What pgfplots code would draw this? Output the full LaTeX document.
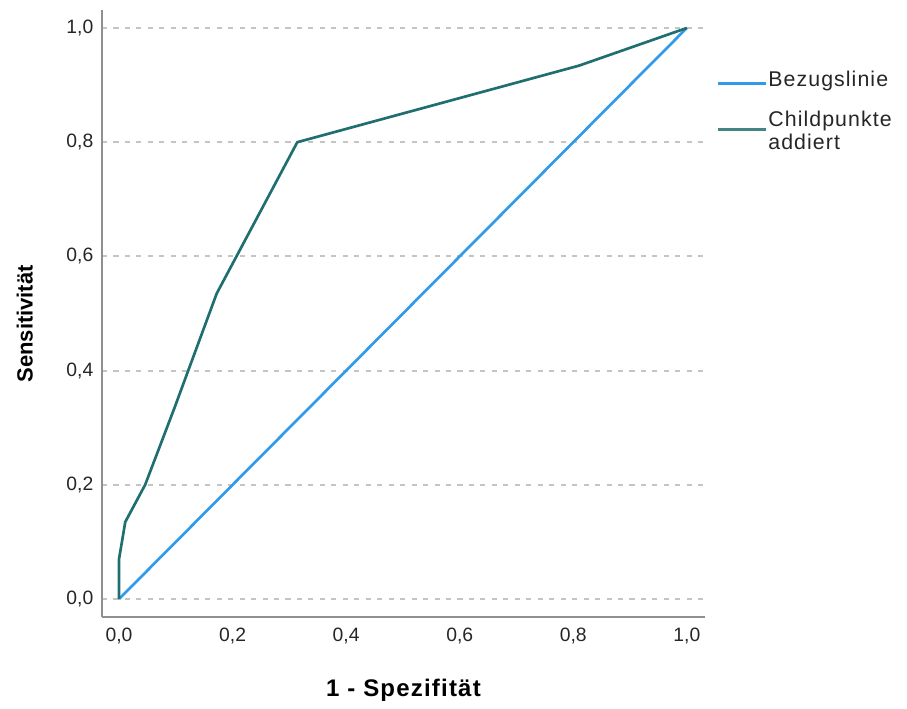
\documentclass[border=0pt]{standalone}
\usepackage{pgfplots}
\pgfplotsset{compat=1.18}
\usepackage{fontspec}
\setmainfont{Liberation Sans}
\newfontfamily\widefont[LetterSpace=5]{Liberation Sans}
\definecolor{refblue}{HTML}{2F9BEA}
\definecolor{rocteal}{HTML}{1F6F70}
\definecolor{gridgray}{HTML}{C4C4C4}
\definecolor{axgray}{HTML}{8F8F8F}
\begin{document}
\begin{tikzpicture}
\useasboundingbox (0,0) rectangle (680.25pt,531.75pt);
\begin{axis}[
  at={(76.5pt,69pt)}, anchor=south west,
  scale only axis, width=452.25pt, height=455.25pt,
  xmin=-0.030, xmax=1.032, ymin=-0.0315, ymax=1.0315,
  axis x line*=bottom, axis y line*=left,
  axis line style={draw=axgray, line width=1.5pt, -},
  xtick={0,0.2,0.4,0.6,0.8,1}, ytick={0,0.2,0.4,0.6,0.8,1},
  major tick length=0pt,
  ymajorgrids,
  grid style={draw=gridgray, line width=1.6pt, dash pattern=on 3.8pt off 4.8pt},
  /pgf/number format/assume math mode=true,
  /pgf/number format/.cd, use comma, fixed, fixed zerofill, precision=1, /pgfplots/.cd,
  tick label style={font=\fontsize{14.5}{17}\selectfont, text=black!85},
  xticklabel style={yshift=-5pt},
  yticklabel style={xshift=-3pt},
  xlabel={\widefont\bfseries 1 - Spezifität}, ylabel={Sensitivität},
  xlabel style={at={(axis description cs:0.5,-0.12)}, anchor=center, font=\bfseries\fontsize{18}{21}\selectfont},
  ylabel style={at={(axis description cs:-0.128,0.483)}, anchor=center, font=\bfseries\fontsize{16.5}{19}\selectfont},
  legend style={at={(axis description cs:1.018,0.902)}, anchor=north west, draw=none, fill=none,
    font=\widefont\fontsize{16}{19}\selectfont, inner sep=0pt, row sep=13pt,
    nodes={inner sep=1pt}, text=black!85},
  legend cell align=left,
]
\addplot[refblue, line width=2pt,
  legend image code/.code={\draw[refblue, line width=2pt] (0pt,-3pt) -- (36pt,-3pt);}] coordinates {(0,0) (1,1)};
\addlegendentry{Bezugslinie}
\addplot[rocteal, line width=2pt,
  legend image code/.code={\draw[rocteal!85!white, line width=2.2pt] (0pt,-8.5pt) -- (36pt,-8.5pt);}] coordinates {
(0,0) (0,0.07) (0.011,0.135) (0.046,0.2) (0.097,0.333) (0.172,0.535) (0.314,0.80) (0.81,0.934) (1,1)};
\addlegendentry{\begin{tabular}[t]{@{}l@{}}Childpunkte\\[-1.5pt]addiert\end{tabular}}
\end{axis}
\end{tikzpicture}
\end{document}
